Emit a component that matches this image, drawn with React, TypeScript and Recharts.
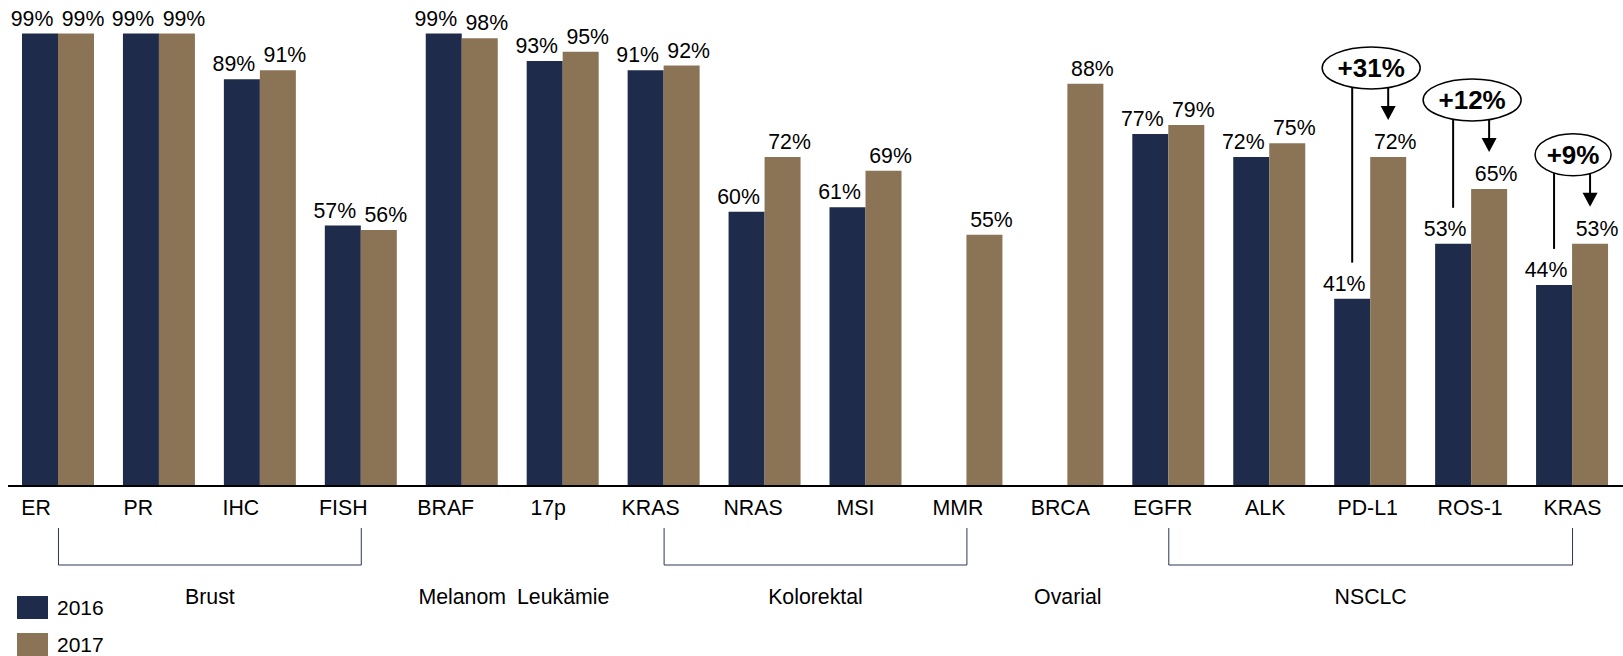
import { BarChart, Bar, XAxis, YAxis, LabelList, Legend } from 'recharts'

const categories = ['ER', 'PR', 'IHC', 'FISH', 'BRAF', '17p', 'KRAS', 'NRAS', 'MSI', 'MMR', 'BRCA', 'EGFR', 'ALK', 'PD-L1', 'ROS-1', 'KRAS']
const values2016: (number | null)[] = [99, 99, 89, 57, 99, 93, 91, 60, 61, null, null, 77, 72, 41, 53, 44]
const values2017: number[] = [99, 99, 91, 56, 98, 95, 92, 72, 69, 55, 88, 79, 75, 72, 65, 53]
// categories that get the "+x%" callout
const highlighted = [false, false, false, false, false, false, false, false, false, false, false, false, false, true, true, true]

const groups = [
  { label: 'Brust', from: 0, to: 3, bracket: true },
  { label: 'Melanom', from: 4, to: 4, bracket: false },
  { label: 'Leukämie', from: 5, to: 5, bracket: false },
  { label: 'Kolorektal', from: 6, to: 9, bracket: true },
  { label: 'Ovarial', from: 10, to: 10, bracket: false },
  { label: 'NSCLC', from: 11, to: 15, bracket: true },
]

const data = categories.map((name, i) => ({ name, v2016: values2016[i], v2017: values2017[i] }))

const WIDTH = 1623
const HEIGHT = 656
const MARGIN = { top: 29, right: 0, left: 8, bottom: 20 }
const BAND = (WIDTH - MARGIN.left - MARGIN.right) / categories.length
const NAVY = '#1f2b4a'
const TAN = '#8b7455'
const FONT = '"Liberation Sans", Arial, sans-serif'
const TEXT_SIZE = 21.3

function CategoryTick(props: any) {
  const { x, y, payload, index } = props
  // the name row is spread a little wider than the bars
  const shift = (index - (categories.length - 1)) * 1.5
  const group = groups.find(g => g.from === index)
  let extra = null
  if (group) {
    const x1 = x + (group.to - group.from) * BAND
    extra = (
      <g>
        {group.bracket && (
          <path d={`M${x},${y + 42} V${y + 79} H${x1} V${y + 42}`} fill="none" stroke="#2b3656" strokeWidth={1} />
        )}
        <text x={(x + x1) / 2} y={y + 118} textAnchor="middle" fontSize={TEXT_SIZE} fontFamily={FONT} fill="#000">
          {group.label}
        </text>
      </g>
    )
  }
  return (
    <g>
      <text x={x + shift} y={y + 29} textAnchor="middle" fontSize={TEXT_SIZE} fontFamily={FONT} fill="#000">
        {payload.value}
      </text>
      {extra}
    </g>
  )
}

const valueLabel = (dx: number) => (props: any) => {
  const vb = props.viewBox ?? props
  const { value } = props
  if (value == null) return null
  return (
    <text x={vb.x + vb.width / 2 + dx} y={vb.y - 8} textAnchor="middle" fontSize={TEXT_SIZE} fontFamily={FONT} fill="#000">
      {`${value}%`}
    </text>
  )
}

function GainCallout(props: any) {
  const { index, value } = props
  const vb = props.viewBox ?? props
  const prev = values2016[index]
  if (!highlighted[index] || prev == null) return null
  const base = vb.y + vb.height
  const unit = vb.height / value
  const topNew = vb.y
  const topOld = base - prev * unit
  const oldX = vb.x - vb.width / 2
  const newX = vb.x + vb.width / 2
  const cx = vb.x + 1
  const cy = topNew - 89
  const text = `+${value - prev}%`
  const rx = 5 + 11 * text.length
  const tip = topNew - 37
  return (
    <g>
      <line x1={oldX} y1={cy} x2={oldX} y2={topOld - 36} stroke="#000" strokeWidth={2} />
      <line x1={newX} y1={cy} x2={newX} y2={tip - 13} stroke="#000" strokeWidth={2} />
      <polygon points={`${newX - 7.5},${tip - 14} ${newX + 7.5},${tip - 14} ${newX},${tip}`} fill="#000" />
      <ellipse cx={cx} cy={cy} rx={rx} ry={21} fill="#fff" stroke="#000" strokeWidth={1.5} />
      <text x={cx} y={cy + 9} textAnchor="middle" fontSize={26} fontWeight="bold" fontFamily={FONT} fill="#000">
        {text}
      </text>
    </g>
  )
}

function YearLegend(props: any) {
  const items = props.payload ?? []
  return (
    <div style={{ fontFamily: FONT, fontSize: 21, color: '#000' }}>
      {items.map((it: any) => (
        <div key={it.value} style={{ display: 'flex', alignItems: 'center', height: 37 }}>
          <span style={{ display: 'inline-block', width: 31, height: 23, background: it.color, marginRight: 9 }} />
          <span>{it.value}</span>
        </div>
      ))}
    </div>
  )
}

export default function App() {
  return (
    <div style={{ position: 'absolute', left: 0, top: 0, background: '#fff' }}>
      <BarChart width={WIDTH} height={HEIGHT} data={data} margin={MARGIN} barSize={36} barGap={0}>
        <XAxis
          dataKey="name"
          height={150}
          interval={0}
          tickLine={false}
          tickSize={0}
          tickMargin={0}
          axisLine={{ stroke: '#000', strokeWidth: 2 }}
          tick={CategoryTick}
        />
        <YAxis hide domain={[0, 100]} />
        <Legend
          layout="horizontal"
          verticalAlign="middle"
          align="center"
          content={YearLegend}
          wrapperStyle={{ left: 17, top: 589, width: 120 }}
        />
        <Bar dataKey="v2016" name="2016" fill={NAVY} isAnimationActive={false}>
          <LabelList dataKey="v2016" content={valueLabel(-8)} />
        </Bar>
        <Bar dataKey="v2017" name="2017" fill={TAN} isAnimationActive={false}>
          <LabelList dataKey="v2017" content={valueLabel(7)} />
          <LabelList dataKey="v2017" content={GainCallout} />
        </Bar>
      </BarChart>
    </div>
  )
}
